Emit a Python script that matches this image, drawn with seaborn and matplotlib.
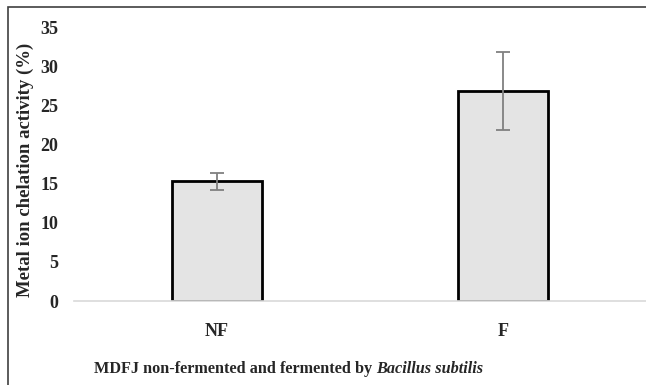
import matplotlib
matplotlib.use("Agg")
import matplotlib.pyplot as plt
import seaborn as sns
import pandas as pd
from matplotlib.patches import Rectangle

categories = ["NF", "F"]
values = [15.3, 26.8]
errors = [1.1, 5.0]
yticks = [0, 5, 10, 15, 20, 25, 30, 35]

sns.set_theme(style="white")
plt.rcParams['font.family'] = ['Liberation Serif', 'DejaVu Serif']

df = pd.DataFrame({"cat": categories, "val": values})

fig = plt.figure(figsize=(6.46, 3.85), dpi=100)
ax = fig.add_axes([74/646, 84/385, 572/646, 274/385])

sns.barplot(data=df, x="cat", y="val", ax=ax, color="#e4e4e4",
            edgecolor="black", linewidth=2, width=0.315, errorbar=None,
            saturation=1)
ax.errorbar(range(len(categories)), values, yerr=errors, fmt="none",
            ecolor="#808080", elinewidth=1.3, capsize=5, capthick=1.3)

ax.set_xlim(-0.5, 1.5)
ax.set_ylim(0, 35)
ax.set_yticks(yticks)
ax.set_yticklabels([str(t) for t in yticks], fontsize=13, fontweight="bold")
ax.set_xticks(range(len(categories)))
ax.set_xticklabels(categories, fontsize=13, fontweight="bold")
ax.tick_params(axis="x", pad=16, length=0)
ax.tick_params(axis="y", pad=11.5, length=0)

for s in ["top", "right", "left"]:
    ax.spines[s].set_visible(False)
ax.spines["bottom"].set_color("#d9d9d9")
ax.spines["bottom"].set_linewidth(1.2)

ax.set_xlabel("")
ax.set_ylabel("")
fig.text(25/646, 1 - 170/385, "Metal ion chelation activity (%)",
         fontsize=13.5, fontweight="bold", rotation=90,
         ha="center", va="center")

t1 = fig.text(94/646, 1 - 369/385, "MDFJ non-fermented and fermented by ",
              fontsize=11.7, fontweight="bold", va="center", ha="left")
ax.annotate("Bacillus subtilis", xy=(1, 0.5), xycoords=t1,
            fontsize=11.7, fontweight="bold", fontstyle="italic",
            va="center", ha="left", annotation_clip=False)

fig.patches.append(Rectangle((8/646, -0.1), 1.0, 1 - 6.5/385 + 0.1,
                             transform=fig.transFigure, fill=False,
                             edgecolor="#404040", linewidth=1.2))

fig.savefig("out.png", dpi=100)
